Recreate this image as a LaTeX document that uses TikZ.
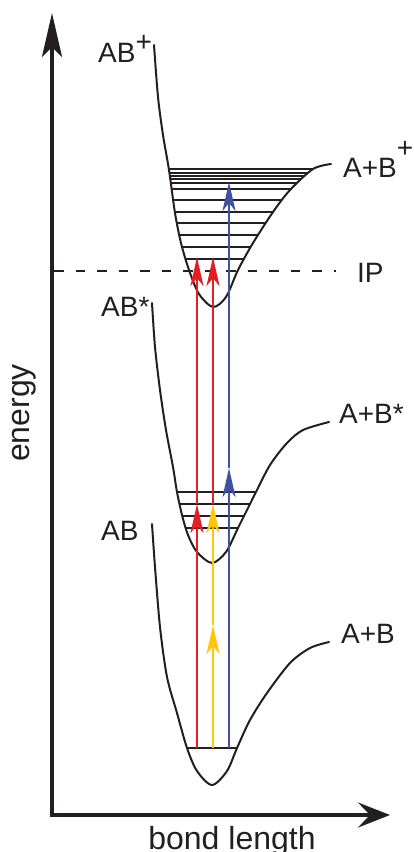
\documentclass[tikz,border=0pt]{standalone}
\usepackage{fontspec}
\setmainfont{Liberation Sans}
\usetikzlibrary{arrows.meta}
\definecolor{ink}{HTML}{231F20}
\definecolor{tred}{HTML}{E31E24}
\definecolor{tyellow}{HTML}{FFC60B}
\definecolor{tblue}{HTML}{3F51A0}
\tikzset{
  curve/.style={ink, line width=2pt, line join=round, line cap=round},
  level/.style={ink, line width=1.7pt},
  axisline/.style={ink, line width=4pt, line join=miter},
  trans/.style={line width=2.8pt, -{Stealth[length=29pt,width=13pt,inset=8pt]}},
  lab/.style={ink, inner sep=0pt, anchor=base west, font=\fontsize{28}{30}\selectfont},
  axlab/.style={ink, inner sep=0pt, anchor=base, font=\fontsize{32}{34}\selectfont},
}
\begin{document}
\begin{tikzpicture}[x=1pt,y=-1pt]
\useasboundingbox (0,0) rectangle (414,852);

% axes
\coordinate (O) at (52,815);
\coordinate (Ytip) at (52,13);
\coordinate (Xtip) at (390,815);
\draw[axisline, {Stealth[length=44pt,width=20pt,inset=10pt]}-{Stealth[length=32pt,width=25pt,inset=12pt]}] (Ytip) -- (O) -- (Xtip);
\node[axlab, rotate=90] (energy) at (30,413) {energy};
\node[axlab] (bond) at (232,849) {bond length};

% levels of AB+
\begin{scope}
\clip plot[smooth] coordinates {(154,45) (158,97) (163,135) (169,170) (175,213) (181,243) (189,270) (199,294) (213,307) (226,297) (238,270) (253,243) (273,212) (290,190) (313,169) (331,164)} -- cycle;
\foreach \yy in {169.3,172.7,176,179.3,183.3,189.3,200,211.7,223.3,235,247.3,259.3}
  \draw[level] (100,\yy) -- (400,\yy);
\end{scope}
% levels of AB*
\begin{scope}
\clip plot[smooth] coordinates {(152,303) (155,347) (160,390) (166,430) (173,467) (177,492) (182,515) (188,535) (197,552) (212,563) (226,552) (238,528) (250,504) (256,492) (270,465) (287,443) (303,430) (329,422)} -- cycle;
\foreach \yy in {492,504,516,528}
  \draw[level] (100,\yy) -- (400,\yy);
\end{scope}
% level of AB
\begin{scope}
\clip plot[smooth] coordinates {(152,524) (155,567) (160,627) (167,677) (177,713) (187,748) (197,771) (212,785) (227,771) (237,748) (250,720) (267,693) (290,663) (310,648) (329,642)} -- cycle;
\draw[level] (100,748) -- (400,748);
\end{scope}

% potential curves
\draw[curve] plot[smooth] coordinates {(154,45) (158,97) (163,135) (169,170) (175,213) (181,243) (189,270) (199,294) (213,307) (226,297) (238,270) (253,243) (273,212) (290,190) (313,169) (331,164)};
\draw[curve] plot[smooth] coordinates {(152,303) (155,347) (160,390) (166,430) (173,467) (177,492) (182,515) (188,535) (197,552) (212,563) (226,552) (238,528) (250,504) (256,492) (270,465) (287,443) (303,430) (329,422)};
\draw[curve] plot[smooth] coordinates {(152,524) (155,567) (160,627) (167,677) (177,713) (187,748) (197,771) (212,785) (227,771) (237,748) (250,720) (267,693) (290,663) (310,648) (329,642)};

% ionisation potential
\coordinate (IPa) at (54,271);
\coordinate (IPb) at (336,271);
\draw[ink, line width=2.3pt, dash pattern=on 9.5pt off 12pt] (IPa) -- (IPb);

% transitions
\coordinate (r0) at (197,748);
\coordinate (r1) at (197,504);
\coordinate (r2) at (197,257);
\coordinate (y0) at (213,748);
\coordinate (y1) at (213,625);
\coordinate (y2) at (213,504);
\coordinate (y3) at (213,257);
\coordinate (b0) at (229,748);
\coordinate (b1) at (229,468);
\coordinate (b2) at (229,182);
\draw[trans, tred] (r0) -- (r1);
\draw[trans, tred] (r1) -- (r2);
\draw[trans, tred] (y2) -- (y3);
\draw[trans, tyellow] (y0) -- (y1);
\draw[trans, tyellow] (y1) -- (y2);
\draw[trans, tblue] (b0) -- (b1);
\draw[trans, tblue] (b1) -- (b2);

% labels
\node[lab] (ABp) at (98,62) {AB\raisebox{11pt}{+}};
\node[lab] (ABpd) at (343,177) {A+B\raisebox{20pt}{+}};
\node[lab] (IP) at (357,282) {IP};
\node[lab] (ABs) at (101,316) {AB*};
\node[lab] (ABsd) at (339,423) {A+B*};
\node[lab] (AB) at (101,540) {AB};
\node[lab] (ABd) at (341,643) {A+B};
\end{tikzpicture}
\end{document}
